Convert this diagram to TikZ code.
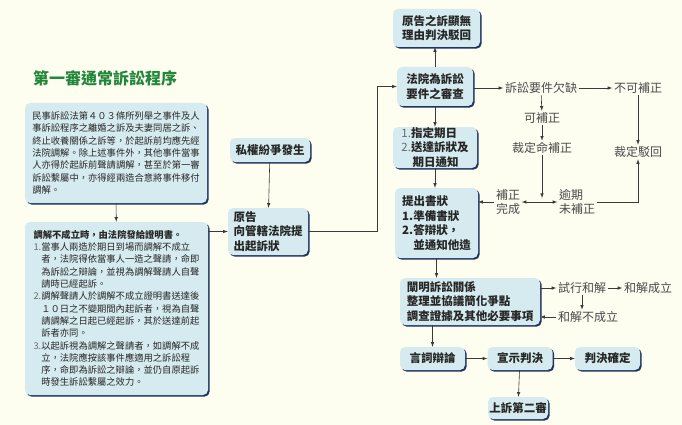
\documentclass[tikz,border=0pt]{standalone}
\usepackage{fontspec}
\setmainfont{Noto Sans CJK TC}
\usepackage{tikz}
\usetikzlibrary{shadows}
\definecolor{bgcream}{HTML}{FDFDF0}
\definecolor{boxfill}{HTML}{D6EBEF}
\definecolor{boxedge}{HTML}{1E3562}
\definecolor{titlegreen}{HTML}{22873A}
\definecolor{linegray}{HTML}{3A3A3A}
\definecolor{labelgray}{HTML}{4A4A4A}
\definecolor{numgray}{HTML}{6A6A6A}

\begin{document}
\begin{tikzpicture}[x=1pt,y=-1pt]
                \tikzstyle{stage}=[rounded corners=5pt,fill=boxfill,inner sep=0pt,align=left,text=black!85,
                    drop shadow={shadow xshift=1.6pt,shadow yshift=-1.6pt,fill=boxedge,opacity=1},
                    font=\fontsize{11.5}{14.5}\selectfont\bfseries]
                \tikzstyle{memo}=[stage,font=\fontsize{9.3}{12.3}\selectfont]
                \tikzstyle{note}=[inner sep=1.5pt,align=left,text=labelgray,font=\fontsize{12}{13.5}\selectfont]
                \tikzstyle{arr}=[-latex,draw=linegray,line width=0.6pt]

                \fill[bgcream] (0,0) rectangle (682,425);
                \useasboundingbox (0,0) rectangle (682,425);

                \node[text=titlegreen,font=\fontsize{16}{18}\selectfont\bfseries] (title) at (105,78) {第一審通常訴訟程序};

                % left column
                \node[memo,minimum width=182pt,minimum height=100pt] (mediate) at (116,153)
                    {民事訴訟法第４０３條所列舉之事件及人\\
                     事訴訟程序之離婚之訴及夫妻同居之訴、\\
                     終止收養關係之訴等，於起訴前均應先經\\
                     法院調解。除上述事件外，其他事件當事\\
                     人亦得於起訴前聲請調解，甚至於第一審\\
                     訴訟繫屬中，亦得經兩造合意將事件移付\\
                     調解。};
                \node[memo,minimum width=183pt,minimum height=173pt] (failed) at (116.5,308.5)
                    {\textbf{調解不成立時，由法院發給證明書。}\\
                     {\color{numgray}1.}當事人兩造於期日到場而調解不成立\\
                     \phantom{1.}者，法院得依當事人一造之聲請，命即\\
                     \phantom{1.}為訴訟之辯論，並視為調解聲請人自聲\\
                     \phantom{1.}請時已經起訴。\\
                     {\color{numgray}2.}調解聲請人於調解不成立證明書送達後\\
                     \phantom{2.}１０日之不變期間內起訴者，視為自聲\\
                     \phantom{2.}請調解之日起已經起訴，其於送達前起\\
                     \phantom{2.}訴者亦同。\\
                     {\color{numgray}3.}以起訴視為調解之聲請者，如調解不成\\
                     \phantom{3.}立，法院應按該事件應適用之訴訟程\\
                     \phantom{3.}序，命即為訴訟之辯論，並仍自原起訴\\
                     \phantom{3.}時發生訴訟繫屬之效力。};

                \node[stage,minimum width=80pt,minimum height=24pt] (dispute) at (270,150) {私權紛爭發生};
                \node[stage,minimum width=80pt,minimum height=47pt] (sue) at (268,231.5) {原告\\向管轄法院提\\出起訴狀};

                % main column
                \node[stage,minimum width=87pt,minimum height=38pt,align=center] (reject) at (436.5,28) {原告之訴顯無\\理由判決駁回};
                \node[stage,minimum width=76pt,minimum height=39pt,align=center] (review) at (435,86.5) {法院為訴訟\\要件之審查};
                \node[stage,minimum width=84pt,minimum height=41pt] (notify) at (435,147.5)
                    {{\mdseries\color{numgray}1.}指定期日\\{\mdseries\color{numgray}2.}送達訴狀及\\\phantom{2.}期日通知};
                \node[stage,minimum width=83pt,minimum height=70pt] (brief) at (436.5,223)
                    {提出書狀\\1.準備書狀\\2.答辯狀，\\\phantom{2.}並通知他造};
                \node[stage,minimum width=140pt,minimum height=47pt] (clarify) at (470,301.5)
                    {闡明訴訟關係\\整理並協議簡化爭點\\調查證據及其他必要事項};
                \foreach \name/\x/\txt in {oral/432.5/言詞辯論, verdict/520/宣示判決, final/607.5/判決確定}
                    \node[stage,minimum width=65pt,minimum height=23pt] (\name) at (\x,358.5) {\txt};
                \node[stage,minimum width=60pt,minimum height=22pt] (appeal) at (518,408) {上訴第二審};

                % side notes
                \node[note] (lack) at (541,88) {訴訟要件欠缺};
                \node[note] (nofix) at (638,88) {不可補正};
                \node[note] (canfix) at (542,118) {可補正};
                \node[note] (order) at (542,148) {裁定命補正};
                \node[note] (dismiss) at (638,152) {裁定駁回};
                \node[note] (done) at (508,202) {補正\\完成};
                \node[note] (late) at (577,202) {逾期\\未補正};
                \node[note] (tryset) at (582,288) {試行和解};
                \node[note] (settled) at (648,288) {和解成立};
                \node[note] (unsettled) at (588,317) {和解不成立};
                \coordinate (meet) at (542,198);
                \coordinate (turn) at (377,232);

                \draw[arr] (mediate) -- (failed);
                \draw[arr] (failed.east |- sue.west) -- (sue.west);
                \draw[arr] (dispute) -- (sue);
                \draw[arr] (sue.east) -- (sue.east -| turn) |- (review.west);
                \draw[arr] (review.north) -- (review.north |- reject.south);
                \draw[arr] (review) -- (notify);
                \draw[arr] (notify.south) -- (notify.south |- brief.north);
                \draw[arr] (brief.south) -- (brief.south |- clarify.north);
                \draw[arr] (oral.north |- clarify.south) -- (oral.north);
                \foreach \from/\to in {oral/verdict, verdict/final, verdict/appeal}
                    \draw[arr] (\from) -- (\to);

                \draw[arr] (review.east |- lack) -- (lack);
                \foreach \from/\to in {lack/nofix, lack/canfix, canfix/order, order/meet, nofix/dismiss}
                    \draw[arr] (\from) -- (\to);
                \draw[arr] (late.east) -| (dismiss.south);
                \draw[arr,latex-latex] (done) -- (late);
                \draw[arr] (done.west) -- (brief.east |- done);

                \draw[arr] (clarify.east |- tryset) -- (tryset);
                \draw[arr] (tryset) -- (settled);
                \draw[arr] (tryset) -- (tryset |- unsettled.north);
                \draw[arr] (unsettled.west) -- (clarify.east |- unsettled);
\end{tikzpicture}
\end{document}
